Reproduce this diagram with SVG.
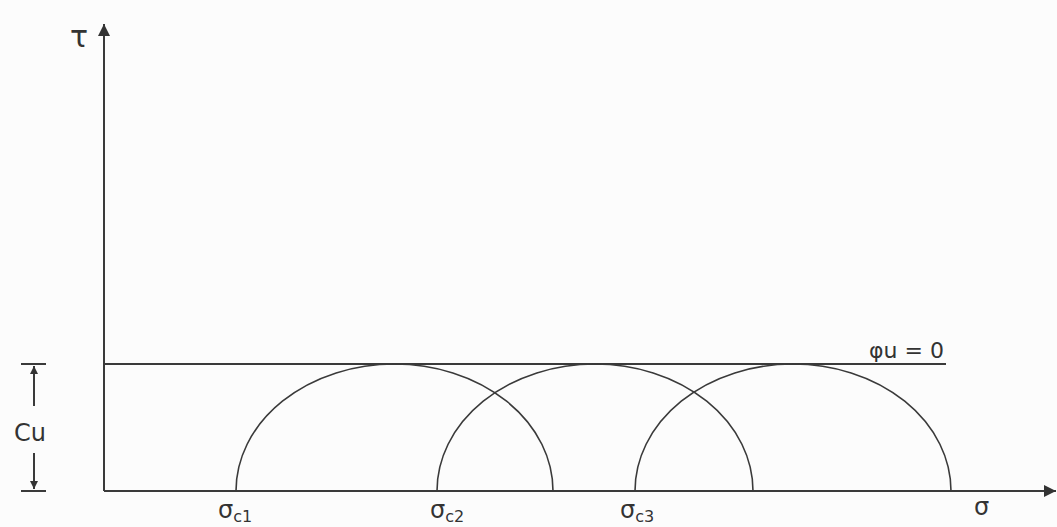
<svg xmlns="http://www.w3.org/2000/svg" width="1057" height="527" viewBox="0 0 1057 527">
<style>
.ln{stroke:#3a3a3a;stroke-width:2;fill:none}
.arc{stroke:#3a3a3a;stroke-width:1.6;fill:none}
.t{font-family:"DejaVu Sans",sans-serif;fill:#333}
</style>
<defs>
<marker id="ah" viewBox="0 0 10 10" refX="10" refY="5" markerWidth="20" markerHeight="12" markerUnits="userSpaceOnUse" orient="auto"><path d="M0,0 L10,5 L0,10 z" fill="#333"/></marker>
<marker id="sa" viewBox="0 0 10 10" refX="10" refY="5" markerWidth="13" markerHeight="8" markerUnits="userSpaceOnUse" orient="auto"><path d="M0,0 L10,5 L0,10 z" fill="#333"/></marker>
</defs>
<rect width="1057" height="527" fill="#fcfcfc"/>
<g id="connectors">
<line id="tau-axis" class="ln" x1="104" y1="491" x2="104" y2="24" marker-end="url(#ah)"/>
<line id="sigma-axis" class="ln" x1="104" y1="491" x2="1056" y2="491" marker-end="url(#ah)"/>
<line id="envelope" class="ln" x1="104" y1="364" x2="946" y2="364"/>
<line class="ln" x1="21" y1="364" x2="46" y2="364"/>
<line class="ln" x1="21" y1="491" x2="46" y2="491"/>
<line class="ln" x1="34" y1="406" x2="34" y2="366" marker-end="url(#sa)"/>
<line class="ln" x1="34" y1="453" x2="34" y2="489" marker-end="url(#sa)"/>
</g>
<g id="circle1"><path class="arc" d="M236,491 A158.5,127 0 0 1 553,491"/></g>
<g id="circle2"><path class="arc" d="M437,491 A158,127 0 0 1 753,491"/></g>
<g id="circle3"><path class="arc" d="M635,491 A158,127 0 0 1 951,491"/></g>
<g id="labels">
<text class="t" x="70" y="47" font-size="30">τ</text>
<text class="t" x="14" y="441" font-size="24">Cu</text>
<text class="t" x="869" y="358" font-size="22">φu = 0</text>
<text class="t" x="218" y="518" font-size="24">σ<tspan font-size="16" dy="4">c1</tspan></text>
<text class="t" x="430" y="518" font-size="24">σ<tspan font-size="16" dy="4">c2</tspan></text>
<text class="t" x="620" y="518" font-size="24">σ<tspan font-size="16" dy="4">c3</tspan></text>
<text class="t" x="974" y="515" font-size="24">σ</text>
</g>
</svg>
